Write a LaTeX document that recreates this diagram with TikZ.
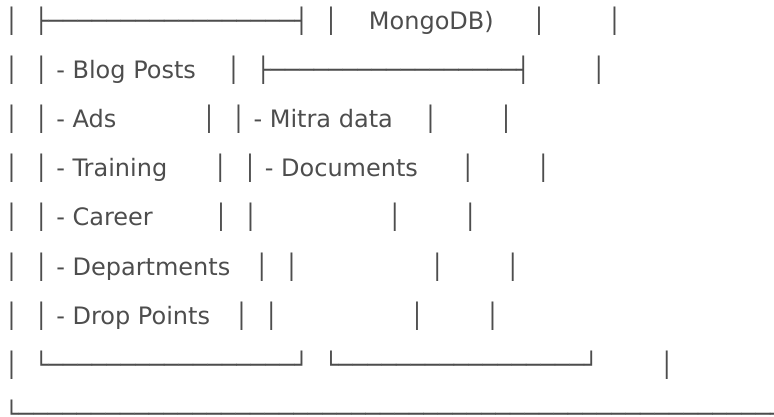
\documentclass[tikz,border=0pt]{standalone}
\usepackage{fontspec}
\setmainfont{DejaVu Sans}
\definecolor{asciigray}{RGB}{77,77,77}
\newcommand\gap[1]{\hspace*{#1\fontdimen2\font}}
\tikzset{
    asciirow/.style={anchor=base west, inner sep=0pt, outer sep=0pt, text=asciigray, font=\fontsize{24}{28}\selectfont\frenchspacing}
}

\begin{document}
\begin{tikzpicture}[x=1pt, y=-1pt]
    \useasboundingbox (0,0) rectangle (774,417);
    \node[asciirow] (row1) at (4.5,29.3) {│\gap{2}├─────────────────┤\gap{2}│\gap{4}MongoDB)\gap{5}│\gap{8}│};
    \node[asciirow] (row2) at (4.5,78.4) {│\gap{2}│ - Blog Posts\gap{4}│\gap{2}├─────────────────┤\gap{8}│};
    \node[asciirow] (row3) at (4.5,127.6) {│\gap{2}│ - Ads\gap{11.2}│\gap{2}│ - Mitra data\gap{4}│\gap{8}│};
    \node[asciirow] (row4) at (4.5,176.7) {│\gap{2}│ - Training\gap{6}│\gap{2}│ - Documents\gap{5.6}│\gap{8}│};
    \node[asciirow] (row5) at (4.5,225.9) {│\gap{2}│ - Career\gap{8}│\gap{2}│\gap{17}│\gap{8}│};
    \node[asciirow] (row6) at (4.5,275.0) {│\gap{2}│ - Departments\gap{3.2}│\gap{2}│\gap{17.2}│\gap{8}│};
    \node[asciirow] (row7) at (4.5,324.1) {│\gap{2}│ - Drop Points\gap{3.2}│\gap{2}│\gap{17.2}│\gap{8}│};
    \node[asciirow] (row8) at (4.5,373.3) {│\gap{2}└─────────────────┘\gap{2}└─────────────────┘\gap{8}│};
    \node[asciirow] (row9) at (4.5,422.4) {└────────────────────────────────────────────────────────────};
\end{tikzpicture}
\end{document}
